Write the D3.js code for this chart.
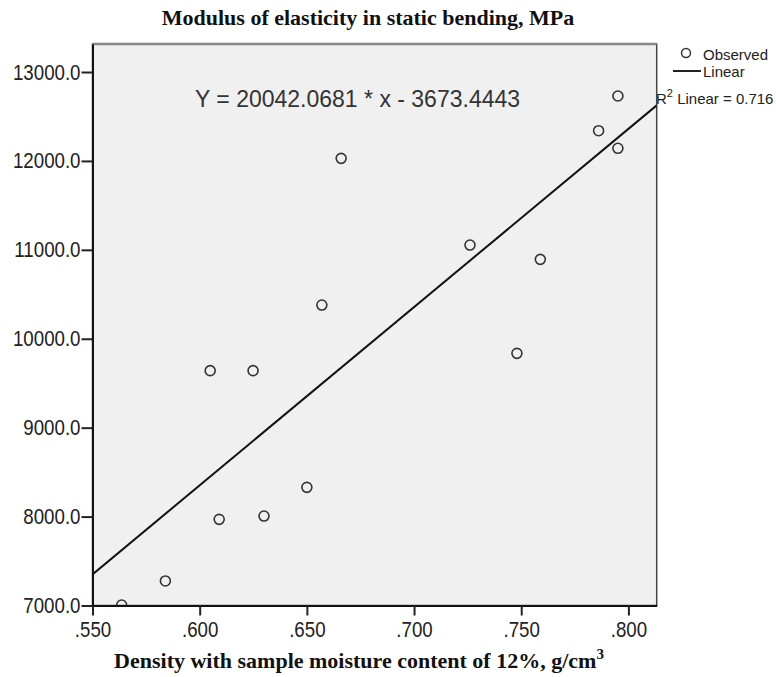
<!DOCTYPE html>
<html>
<head>
<meta charset="utf-8">
<script src="https://cdn.jsdelivr.net/npm/d3@7"></script>
<style>
  body { margin: 0; background: #fff; }
  svg { display: block; }
</style>
</head>
<body>
<div id="chart"></div>
<script>
'use strict';

// observed points: density (g/cm3) and modulus (MPa)
let density = [.5636, .5840, .6049, .6091, .6249, .6300, .6500, .6570, .6660,
               .7261, .7480, .7589, .7861, .7951, .7951];
let modulus = [7005, 7276, 9641, 7969, 9641, 8006, 8329, 10379, 12029,
               11054, 9836, 10893, 12340, 12142, 12730];

// fitted line Y = a * x + b
let slope = 20042.0681;
let intercept = -3673.4443;
let r2 = 0.716;

let xTicks = [.55, .60, .65, .70, .75, .80];
let yTicks = [7000, 8000, 9000, 10000, 11000, 12000, 13000];

let w = 777;
let h = 677;
let pLeft = 92.5, pRight = 656.7, pTop = 44, pBottom = 605.5;
let squeeze = 0.85; // tick labels are narrow

let x = d3.scaleLinear().domain([.55, .8132]).range([pLeft, pRight]);
let y = d3.scaleLinear().domain([7000, 13315]).range([pBottom, pTop]);

let svg = d3.select('#chart').append('svg')
	.attr('width', w)
	.attr('height', h);

svg.append('defs').append('clipPath')
	.attr('id', 'plot-clip')
	.append('rect')
	.attr('x', pLeft).attr('y', pTop)
	.attr('width', pRight - pLeft).attr('height', pBottom - pTop);

// plot background
svg.append('rect')
	.attr('x', pLeft).attr('y', pTop)
	.attr('width', pRight - pLeft).attr('height', pBottom - pTop)
	.attr('fill', '#f0f0f0')
	.attr('stroke', '#444')
	.attr('stroke-width', 1.5);

svg.append('line')
	.attr('x1', pLeft).attr('x2', pRight)
	.attr('y1', pTop).attr('y2', pTop)
	.attr('stroke', '#888')
	.attr('stroke-width', 2.5);

let plot = svg.append('g').attr('clip-path', 'url(#plot-clip)');

// regression line
let lineX = [.55, .8132];
plot.append('path')
	.datum(lineX)
	.attr('d', d3.line().x(d => x(d)).y(d => y(slope * d + intercept)))
	.attr('stroke', '#111')
	.attr('stroke-width', 2)
	.attr('fill', 'none');

plot.selectAll('circle')
	.data(density)
	.enter()
	.append('circle')
	.attr('cx', d => x(d))
	.attr('cy', (d, i) => y(modulus[i]))
	.attr('r', 5)
	.attr('fill', 'none')
	.attr('stroke', '#333')
	.attr('stroke-width', 1.6);

// axes
let tickFont = '"Liberation Sans", Arial, sans-serif';

let yAxis = svg.append('g')
	.attr('transform', `translate(${pLeft},0)`)
	.call(d3.axisLeft(y).tickValues(yTicks).tickSize(11).tickSizeOuter(0)
		.tickFormat(d3.format('.1f')));

let xAxis = svg.append('g')
	.attr('transform', `translate(0,${pBottom})`)
	.call(d3.axisBottom(x).tickValues(xTicks).tickSize(10).tickSizeOuter(0)
		.tickFormat(d => d3.format('.3f')(d).replace(/^0/, '')));

[xAxis, yAxis].forEach(a => {
	a.select('.domain').attr('stroke', '#111').attr('stroke-width', 2);
	a.selectAll('.tick line').attr('stroke', '#222').attr('stroke-width', 2);
	a.selectAll('.tick text')
		.attr('font-family', tickFont)
		.attr('font-size', '22px')
		.attr('fill', '#222')
		.attr('transform', `scale(${squeeze},1)`);
});
yAxis.selectAll('.tick text').attr('x', -12 / squeeze);
xAxis.selectAll('.tick text').attr('y', 16).attr('dy', '0.71em');

// equation
svg.append('text')
	.attr('x', 195).attr('y', 107)
	.attr('font-family', '"Liberation Sans", Arial, sans-serif')
	.attr('font-size', '23px')
	.attr('fill', '#333')
	.text(`Y = ${slope.toFixed(4)} * x - ${Math.abs(intercept).toFixed(4)}`);

// title and axis label
let serif = '"Liberation Serif", "Times New Roman", serif';

svg.append('text')
	.attr('x', 368).attr('y', 25)
	.attr('text-anchor', 'middle')
	.attr('font-family', serif)
	.attr('font-weight', 'bold')
	.attr('font-size', '22px')
	.attr('fill', '#111')
	.text('Modulus of elasticity in static bending, MPa');

let xLabel = svg.append('text')
	.attr('x', 359).attr('y', 668)
	.attr('text-anchor', 'middle')
	.attr('font-family', serif)
	.attr('font-weight', 'bold')
	.attr('font-size', '22px')
	.attr('fill', '#111');
xLabel.append('tspan').text('Density with sample moisture content of 12%, g/cm');
xLabel.append('tspan').attr('dy', -9).attr('font-size', '15px').text('3');

// legend
let legend = svg.append('g')
	.attr('font-family', '"Liberation Sans", Arial, sans-serif')
	.attr('font-size', '15px')
	.attr('fill', '#222');

legend.append('circle')
	.attr('cx', 686).attr('cy', 53).attr('r', 4.5)
	.attr('fill', 'none').attr('stroke', '#333').attr('stroke-width', 1.5);
legend.append('text').attr('x', 703).attr('y', 60).text('Observed');
legend.append('line')
	.attr('x1', 673).attr('x2', 701).attr('y1', 71).attr('y2', 71)
	.attr('stroke', '#222').attr('stroke-width', 2);
legend.append('text').attr('x', 703).attr('y', 77).text('Linear');

let r2Text = legend.append('text').attr('x', 656).attr('y', 104);
r2Text.append('tspan').text('R');
r2Text.append('tspan').attr('dy', -7).attr('font-size', '11px').text('2');
r2Text.append('tspan').attr('dy', 7).text(` Linear = ${r2}`);
</script>
</body>
</html>
